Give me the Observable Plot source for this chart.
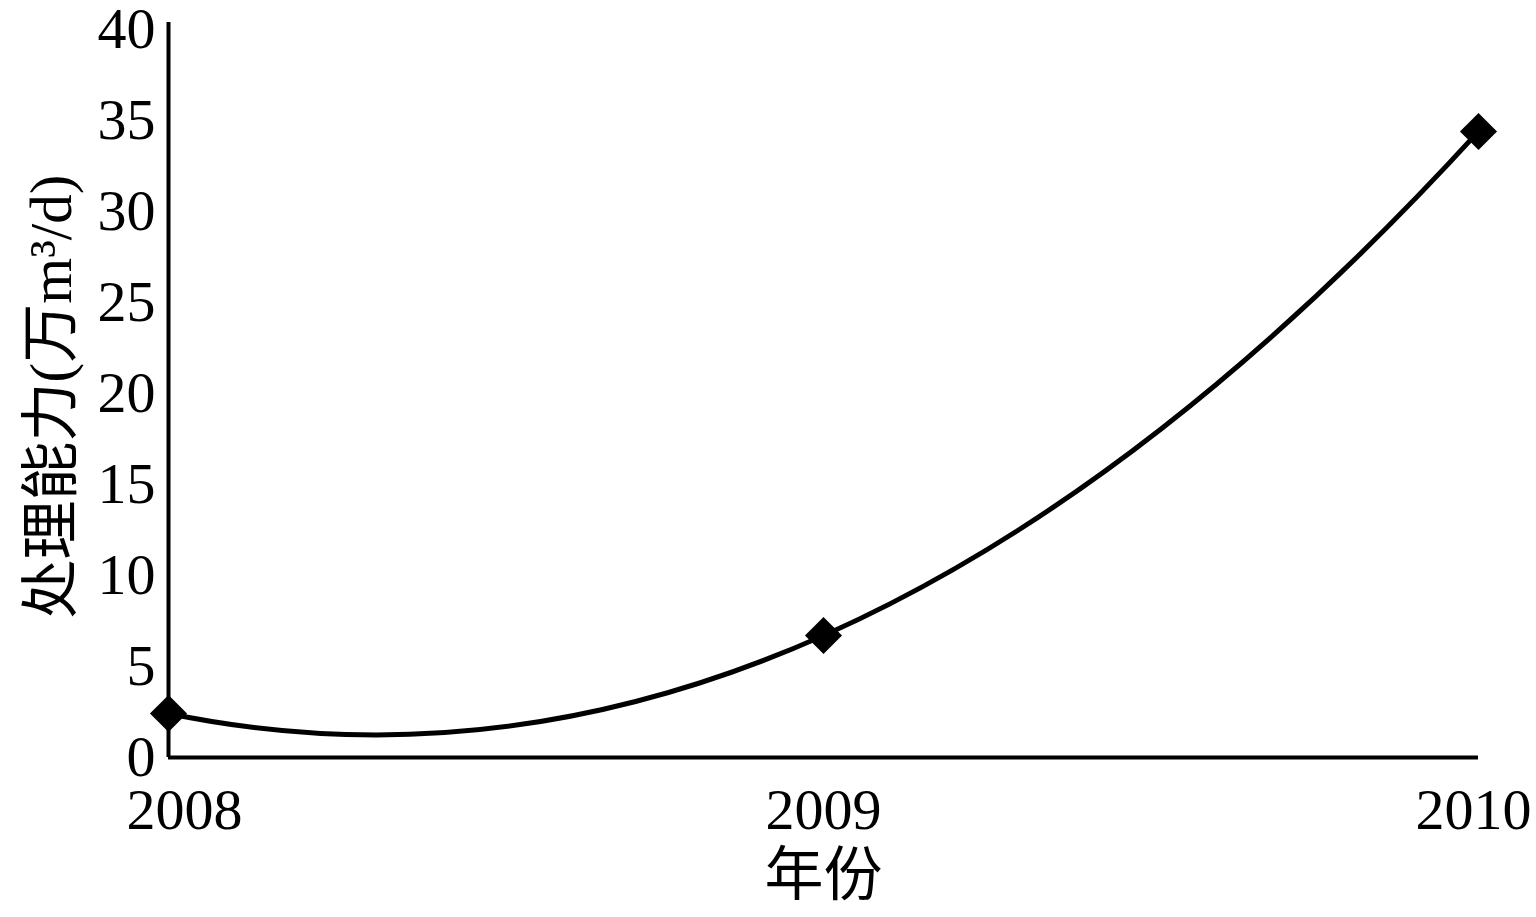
<!DOCTYPE html>
<html>
<head>
<meta charset="utf-8">
<script src="https://cdn.jsdelivr.net/npm/d3@7"></script>
<script src="https://cdn.jsdelivr.net/npm/@observablehq/plot@0.6"></script>
<style>
  html, body { margin: 0; padding: 0; background: #fff; }
</style>
</head>
<body>
<div id="chart"></div>
<script>
// Data
const years = [2008, 2009, 2010];
const capacity = [2.42, 6.7, 34.4];
const yTicks = [0, 5, 10, 15, 20, 25, 30, 35, 40];
const xLabel = "年份";
const yLabel = "处理能力(万m³/d)";

const data = years.map((year, i) => ({year, value: capacity[i]}));

// Smooth curve through three points (parabola as quadratic Bézier)
function smoothThrough(context) {
  let pts = [];
  return {
    areaStart() {}, areaEnd() {},
    lineStart() { pts = []; },
    point(x, y) { pts.push([+x, +y]); },
    lineEnd() {
      if (pts.length === 3) {
        const [a, b, c] = pts;
        context.moveTo(a[0], a[1]);
        context.quadraticCurveTo(2 * b[0] - (a[0] + c[0]) / 2, 2 * b[1] - (a[1] + c[1]) / 2, c[0], c[1]);
      } else {
        pts.forEach((p, i) => i ? context.lineTo(p[0], p[1]) : context.moveTo(p[0], p[1]));
      }
    }
  };
}

const font = "'Liberation Serif', 'Times New Roman', 'Noto Sans CJK SC', serif";
const labelDx = [16, 0, -5];

const chart = Plot.plot({
  width: 1536,
  height: 917,
  marginLeft: 168,
  marginRight: 58,
  marginTop: 29,
  marginBottom: 160,
  style: {fontFamily: font, fontSize: "58px", background: "#fff", color: "#000"},
  x: {domain: [2008, 2010], type: "linear"},
  y: {domain: [0, 40]},
  marks: [
    Plot.axisY({ticks: yTicks, tickSize: 0, tickPadding: 13, fontSize: 58, label: null, tickFormat: d => String(d)}),
    Plot.axisX({ticks: [], label: null}),
    Plot.ruleY([0], {stroke: "#000", strokeWidth: 4}),
    Plot.ruleX([2008], {stroke: "#000", strokeWidth: 4, insetTop: -7}),
    ...years.map((yr, i) => Plot.text([yr], {
      x: d => d, text: d => String(d), frameAnchor: "bottom", dy: 53, dx: labelDx[i],
      fontSize: 58, lineAnchor: "middle", textAnchor: "middle", fill: "#000"
    })),
    Plot.text([xLabel], {frameAnchor: "bottom", dy: 119, fontSize: 59, lineAnchor: "middle", textAnchor: "middle", fill: "#000"}),
    Plot.text([yLabel], {frameAnchor: "left", dx: -116, dy: 3, rotate: -90, fontSize: 59, lineAnchor: "middle", textAnchor: "middle", fill: "#000"}),
    Plot.line(data, {x: "year", y: "value", curve: smoothThrough, stroke: "#000", strokeWidth: 5}),
    Plot.dot(data, {x: "year", y: "value", symbol: "diamond2", r: 16.7, fill: "#000", stroke: "none"})
  ]
});

document.getElementById("chart").appendChild(chart);
</script>
</body>
</html>
